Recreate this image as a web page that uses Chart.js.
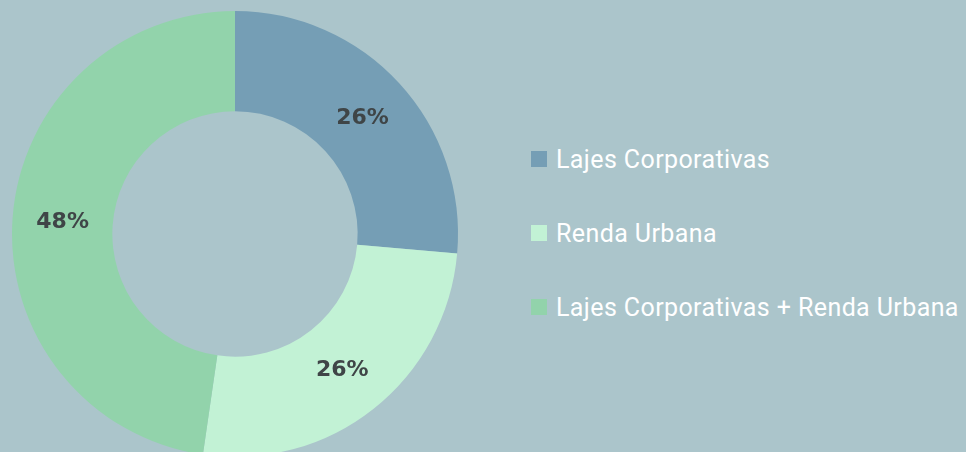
<!DOCTYPE html>
<html>
<head>
<meta charset="utf-8">
<script src="https://cdn.jsdelivr.net/npm/chart.js@4"></script>
<style>
  html, body { margin: 0; padding: 0; background: #abc5cb; overflow: hidden; }
  #wrap { position: relative; width: 966px; height: 452px; }
  #box { position: absolute; left: 0; top: 0; width: 470px; height: 468px; }
  #legend { position: absolute; left: 531px; top: 147px; font-family: Roboto, sans-serif; font-size: 25px; letter-spacing: 0.4px; color: #ffffff; }
  .item { display: flex; align-items: center; height: 24px; margin-bottom: 50px; white-space: nowrap; }
  .sw { width: 16px; height: 16px; margin-right: 9px; }
</style>
</head>
<body>
<div id="wrap">
  <div id="box"><canvas id="chart"></canvas></div>
  <div id="legend"></div>
</div>
<script>
// Données du graphique
const categories = ['Lajes Corporativas', 'Renda Urbana', 'Lajes Corporativas + Renda Urbana'];
const valeurs = [26.4, 25.9, 47.7];
const couleurs = ['#759eb5', '#c2f2d5', '#92d3ab'];

// Étiquettes de pourcentage au centre de chaque part
const etiquettes = {
  id: 'etiquettes',
  afterDatasetsDraw(chart) {
    const ctx = chart.ctx;
    const total = valeurs.reduce((a, b) => a + b, 0);
    ctx.save();
    ctx.font = 'bold 22px "DejaVu Sans", sans-serif';
    ctx.fillStyle = '#3f4547';
    ctx.textAlign = 'center';
    ctx.textBaseline = 'middle';
    chart.getDatasetMeta(0).data.forEach((arc, i) => {
      const pos = arc.tooltipPosition();
      ctx.fillText(Math.round(valeurs[i] / total * 100) + '%', pos.x, pos.y + 1);
    });
    ctx.restore();
  }
};

new Chart(document.getElementById('chart'), {
  type: 'doughnut',
  data: {
    labels: categories,
    datasets: [{
      data: valeurs,
      backgroundColor: couleurs,
      borderWidth: 0
    }]
  },
  options: {
    responsive: true,
    maintainAspectRatio: false,
    animation: false,
    cutout: '55%',
    layout: { padding: { top: 11, bottom: 11, left: 0, right: 0 } },
    plugins: {
      legend: { display: false },
      tooltip: { enabled: false }
    }
  },
  plugins: [etiquettes]
});

// Légende HTML à droite
const legendDiv = document.getElementById('legend');
categories.forEach((cat, i) => {
  const item = document.createElement('div');
  item.className = 'item';
  item.innerHTML = `<span class="sw" style="background:${couleurs[i]}"></span><span>${cat}</span>`;
  legendDiv.appendChild(item);
});
</script>
</body>
</html>
